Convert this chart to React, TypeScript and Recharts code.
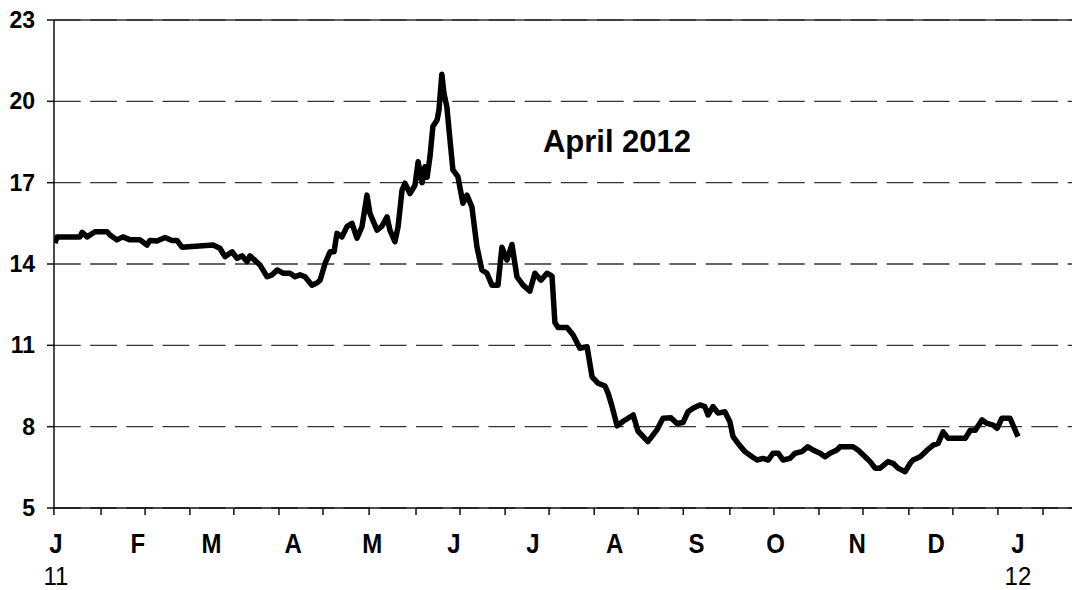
import React from "react";
import { LineChart, Line, XAxis, YAxis, CartesianGrid, ReferenceLine } from "recharts";

// x values are days since 1 Jan 2011
const days = [
  -0.4, 0.4, 9.1, 9.9, 11.8, 14.8, 19.4, 20.5, 23.1, 25.4, 28.1, 31.9, 34.5, 35.7, 38.3, 41.4, 44.0, 45.9, 47.8,
  59.6, 62.2, 64.1, 66.8, 68.7, 70.6, 72.5, 73.6, 77.4, 80.1, 82.0, 83.9, 86.1, 88.8, 90.7, 92.6, 94.5, 97.1,
  99.0, 100.2, 102.1, 104.0, 105.5, 106.6, 108.5, 110.4, 112.3, 114.2, 116.1, 118.0, 119.1, 121.8, 123.7, 125.6,
  126.7, 128.6, 129.8, 131.3, 132.4, 134.3, 136.2, 137.4, 138.9, 140.0, 140.8, 141.9, 143.0, 144.6, 145.3, 146.4,
  147.2, 148.3, 149.5, 150.6, 152.5, 154.4, 155.9, 157.8, 159.7, 161.6, 163.5, 165.4, 167.7, 169.2, 171.1, 173.0,
  174.9, 177.2, 179.8, 181.7, 184.0, 186.3, 188.2, 189.3, 190.5, 193.9, 196.2, 198.8, 201.5, 203.4, 205.7, 208.3,
  209.5, 211.0, 212.9, 215.2, 219.0, 220.8, 224.6, 228.0, 230.3, 233.3, 235.6, 237.9, 239.8, 241.7, 244.3, 246.2,
  247.4, 249.3, 251.2, 253.8, 255.7, 256.9, 258.8, 261.4, 264.1, 266.0, 268.3, 270.2, 272.1, 274.0, 275.9, 278.5,
  280.4, 283.0, 285.3, 287.2, 289.9, 291.8, 293.7, 296.3, 297.5, 300.1, 302.4, 304.3, 307.0, 308.9, 310.8, 312.7,
  315.7, 317.6, 319.5, 322.2, 324.1, 325.2, 327.9, 330.6, 332.8, 334.7, 336.6, 338.5, 341.9, 345.0, 346.9, 348.8,
  351.4, 353.3, 355.6, 357.1, 358.9, 362.0, 363.1, 365.0,
];

const values = [
  14.77, 15.0, 15.0, 15.17, 15.0, 15.19, 15.19, 15.07, 14.89, 15.0, 14.89, 14.89, 14.7, 14.87, 14.85, 14.98, 14.87, 14.87, 14.62,
  14.7, 14.58, 14.27, 14.45, 14.21, 14.3, 14.09, 14.3, 13.96, 13.53, 13.6, 13.78, 13.66, 13.66, 13.53, 13.6, 13.53, 13.22,
  13.3, 13.4, 14.02, 14.45, 14.45, 15.13, 15.0, 15.38, 15.5, 14.95, 15.38, 16.54, 15.87, 15.25, 15.4, 15.74,
  15.25, 14.82, 15.38, 16.73, 16.98, 16.6, 16.9, 17.77, 17.0, 17.59, 17.2, 17.96, 19.07, 19.31, 19.68, 21.0,
  20.3, 19.8, 18.57, 17.47, 17.22, 16.24, 16.54, 16.11, 14.64, 13.78, 13.66, 13.22, 13.22, 14.62, 14.15, 14.72,
  13.53, 13.22, 13.0, 13.66, 13.4, 13.66, 13.55, 11.84, 11.66, 11.66, 11.38, 10.89, 10.95, 9.84, 9.6, 9.5,
  9.23, 8.74, 8.03, 8.2, 8.43, 7.84, 7.45, 7.88, 8.31, 8.33, 8.12, 8.15, 8.55, 8.68, 8.8, 8.74,
  8.43, 8.74, 8.5, 8.55, 8.18, 7.63, 7.38, 7.08, 6.89, 6.77, 6.83, 6.77, 7.02, 7.02, 6.77, 6.83,
  7.02, 7.08, 7.26, 7.14, 7.02, 6.89, 7.02, 7.14, 7.26, 7.26, 7.26, 7.14, 6.89, 6.71, 6.47, 6.47,
  6.71, 6.65, 6.47, 6.34, 6.65, 6.77, 6.89, 7.14, 7.32, 7.38, 7.81, 7.57, 7.57, 7.57, 7.87, 7.87,
  8.25, 8.12, 8.06, 7.94, 8.31, 8.31, 8.06, 7.63,
];

const yTicks = [5, 8, 11, 14, 17, 20, 23];
const tickDays = [
  -0.8, 17.1, 33.8, 50.8, 67.5, 84.6, 101.3, 118.8, 136.6, 153.3, 170.4, 187.1, 204.2, 220.9, 238.0, 255.7,
  272.4, 289.5, 306.2, 323.6, 340.3, 357.4, 374.5,
];
const labelDays = [0, 31, 59, 90, 120, 151, 181, 212, 243, 273, 304, 334, 365];
const monthLabels = ["J", "F", "M", "A", "M", "J", "J", "A", "S", "O", "N", "D", "J"];
const yearLabels = ["11", "", "", "", "", "", "", "", "", "", "", "", "12"];
const title = "April 2012";

const data = days.map((d, i) => ({ day: d, value: values[i] }));
const allXTicks = [...tickDays, ...labelDays].sort((a, b) => a - b);

const FONT = "'Liberation Sans', Arial, sans-serif";

const XTick = (props: any) => {
  const { x, y, payload } = props;
  const v = payload.value;
  const li = labelDays.indexOf(v);
  if (li < 0) {
    return <line x1={x} x2={x} y1={y} y2={y + 7} stroke="#111" strokeWidth={1.5} />;
  }
  return (
    <g>
      <text
        transform={`translate(${x},${y + 45}) scale(1,1.15)`}
        textAnchor="middle"
        fontFamily={FONT}
        fontWeight="bold"
        fontSize={24}
        fill="#000"
      >
        {monthLabels[li]}
      </text>
      {yearLabels[li] ? (
        <text
          transform={`translate(${x},${y + 77}) scale(1,1.1)`}
          textAnchor="middle"
          fontFamily={FONT}
          fontSize={24}
          fill="#000"
        >
          {yearLabels[li]}
        </text>
      ) : null}
    </g>
  );
};

export default function App() {
  return (
    <div style={{ position: "relative", width: 1072, height: 590 }}>
      <style>{"body{margin:0;}"}</style>
      <LineChart width={1072} height={590} data={data} margin={{ top: 20, right: 0, left: 0, bottom: 0 }}>
        <CartesianGrid vertical={false} stroke="#333" strokeWidth={1.3} strokeDasharray="26.7 9.5" />
        <ReferenceLine y={23} stroke="#333" strokeWidth={1.5} />
        <XAxis
          dataKey="day"
          type="number"
          domain={[-0.76, 385.5]}
          ticks={allXTicks}
          interval={0}
          tickLine={false}
          tickSize={0}
          tickMargin={0}
          axisLine={{ stroke: "#111", strokeWidth: 1.5 }}
          tick={<XTick />}
          height={82}
          allowDataOverflow
        />
        <YAxis
          type="number"
          domain={[5, 23]}
          ticks={yTicks}
          interval={0}
          width={54}
          tickSize={7}
          tickMargin={12}
          axisLine={{ stroke: "#111", strokeWidth: 1.5 }}
          tickLine={{ stroke: "#111", strokeWidth: 1.5 }}
          tick={{ fontFamily: FONT, fontSize: 23, fontWeight: "bold", fill: "#000" }}
          allowDataOverflow
        />
        <Line
          type="linear"
          dataKey="value"
          stroke="#000"
          strokeWidth={5.5}
          strokeLinejoin="round"
          dot={false}
          isAnimationActive={false}
        />
      </LineChart>
      <div
        style={{
          position: "absolute",
          left: 617,
          top: 124,
          transform: "translateX(-50%)",
          fontFamily: FONT,
          fontWeight: "bold",
          fontSize: 31,
          lineHeight: "36px",
          whiteSpace: "nowrap",
          color: "#000",
        }}
      >
        {title}
      </div>
    </div>
  );
}
